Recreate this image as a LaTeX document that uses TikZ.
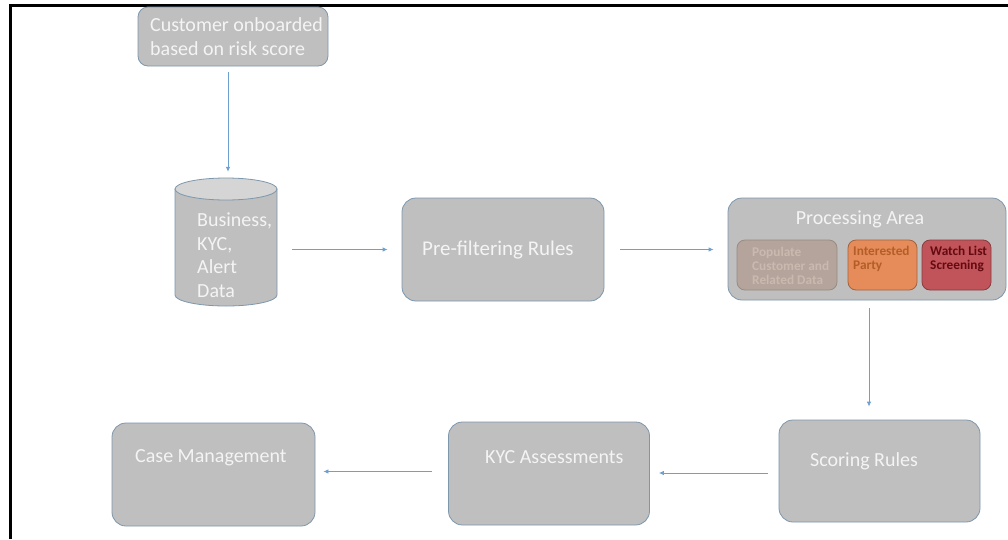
\documentclass[tikz,border=0pt]{standalone}
\usepackage{fontspec}
\setmainfont{Carlito}
\usepackage{xcolor}
\usetikzlibrary{arrows.meta,positioning}

\definecolor{boxgray}{HTML}{BFBFBF}
\definecolor{boxedge}{HTML}{7D97AC}
\definecolor{cyltop}{HTML}{D5D5D5}
\definecolor{flowblue}{HTML}{6F9FCE}
\definecolor{boxtxt}{HTML}{F4F4F4}
\definecolor{popfill}{HTML}{B4A49B}
\definecolor{poptxt}{HTML}{C9B9AF}
\definecolor{partyfill}{HTML}{E68C5A}
\definecolor{partytxt}{HTML}{B35E28}
\definecolor{watchfill}{HTML}{C0545A}
\definecolor{watchtxt}{HTML}{640A10}

\begin{document}
\begin{tikzpicture}[x=1pt,y=-1pt,
	box/.style={draw=boxedge, fill=boxgray, rounded corners=14pt, line width=0.8pt, inner sep=0pt},
	boxtext/.style={text=boxtxt, font=\fontsize{20}{24}\selectfont, align=left, inner sep=0pt},
	subbox/.style={rounded corners=8pt, line width=0.8pt, inner sep=0pt, minimum width=69pt, minimum height=50pt},
	subtext/.style={font=\bfseries\fontsize{13.3}{14}\selectfont, align=left, inner sep=0pt},
	flow/.style={draw=flowblue, line width=0.8pt, -{Latex[length=5pt,width=4.5pt]}}]
	
	\useasboundingbox (0,0) rectangle (1008,539);
	
	% frame
	\draw [line width=3pt] (1008,5) -- (10,5) -- (10,539);
	
	% customer onboarded
	\node [box, rounded corners=10pt, minimum width=190pt, minimum height=59pt] (customer) at (233,36.5) {};
	\node [boxtext, anchor=west] (customertext) at (150,36.5) {Customer onboarded\\based on risk score};
	
	% data store
	\path [fill=boxgray, draw=boxedge, line width=0.8pt] (175,189) -- (175,295) arc [start angle=180, end angle=0, x radius=51, y radius=11] -- (277,189) -- cycle;
	\draw [fill=cyltop, draw=boxedge, line width=0.8pt] (226,189) ellipse [x radius=51, y radius=11];
	\node [inner sep=0pt, minimum width=102pt, minimum height=128pt] (data) at (226,242) {};
	\node [boxtext, anchor=west, font=\fontsize{20}{23.5}\selectfont] (datatext) at (197,255) {Business,\\KYC,\\Alert\\Data};
	
	% pre-filtering
	\node [box, minimum width=202pt, minimum height=103pt] (prefilter) at (503,249.5) {};
	\node [boxtext, anchor=west, font=\fontsize{21}{25}\selectfont] (prefiltertext) at (422,250) {Pre-filtering Rules};
	
	% processing area
	\node [box, minimum width=278pt, minimum height=102pt] (processing) at (867,249) {};
	\node [boxtext] (processingtext) at (860,219) {Processing Area};
	\node [subbox, fill=popfill, draw=popfill!85!black, minimum width=100pt] (populate) at (787,265) {};
	\node [subtext, text=poptxt, anchor=west] (populatetext) at (752,266) {Populate\\Customer and\\Related Data};
	\node [subbox, fill=partyfill, draw=partyfill!70!black] (party) at (882.5,265) {};
	\node [subtext, text=partytxt, anchor=west] (partytext) at (853,259) {Interested\\Party};
	\node [subbox, fill=watchfill, draw=watchfill!70!black] (watch) at (956.5,265) {};
	\node [subtext, text=watchtxt, anchor=west] (watchtext) at (930,259) {Watch List\\Screening};
	
	% scoring
	\node [box, minimum width=201pt, minimum height=102pt] (scoring) at (879.5,471) {};
	\node [boxtext, anchor=west] (scoringtext) at (810,461) {Scoring Rules};
	
	% kyc assessments
	\node [box, minimum width=201pt, minimum height=103pt] (assess) at (549,473.5) {};
	\node [boxtext, anchor=west] (assesstext) at (485,457) {KYC Assessments};
	
	% case management
	\node [box, minimum width=203pt, minimum height=103pt] (casemgmt) at (213.5,474.5) {};
	\node [boxtext, anchor=west] (casetext) at (135,458) {Case Management};
	
	% connectors
	\draw [flow] ([xshift=-5pt, yshift=-6pt]customer.south) -- ([xshift=2pt, yshift=6pt]data.north);
	\draw [flow] ([xshift=15pt]data.east |- prefilter.west) -- ([xshift=-14pt]prefilter.west);
	\draw [flow] ([xshift=16pt]prefilter.east) -- ([xshift=-14pt]processing.west |- prefilter.east);
	\coordinate (down) at ([xshift=2pt]processing.south);
	\draw [flow] ([yshift=-8pt]down) -- ([yshift=13pt]scoring.north -| down);
	\coordinate (left1) at ([xshift=-11pt, yshift=-2pt]scoring.west);
	\draw [flow] (left1) -- ([xshift=9pt]assess.east |- left1);
	\coordinate (left2) at ([xshift=-16pt, yshift=2pt]assess.west);
	\draw [flow] (left2) -- ([xshift=8pt]casemgmt.east |- left2);
	
\end{tikzpicture}
\end{document}
